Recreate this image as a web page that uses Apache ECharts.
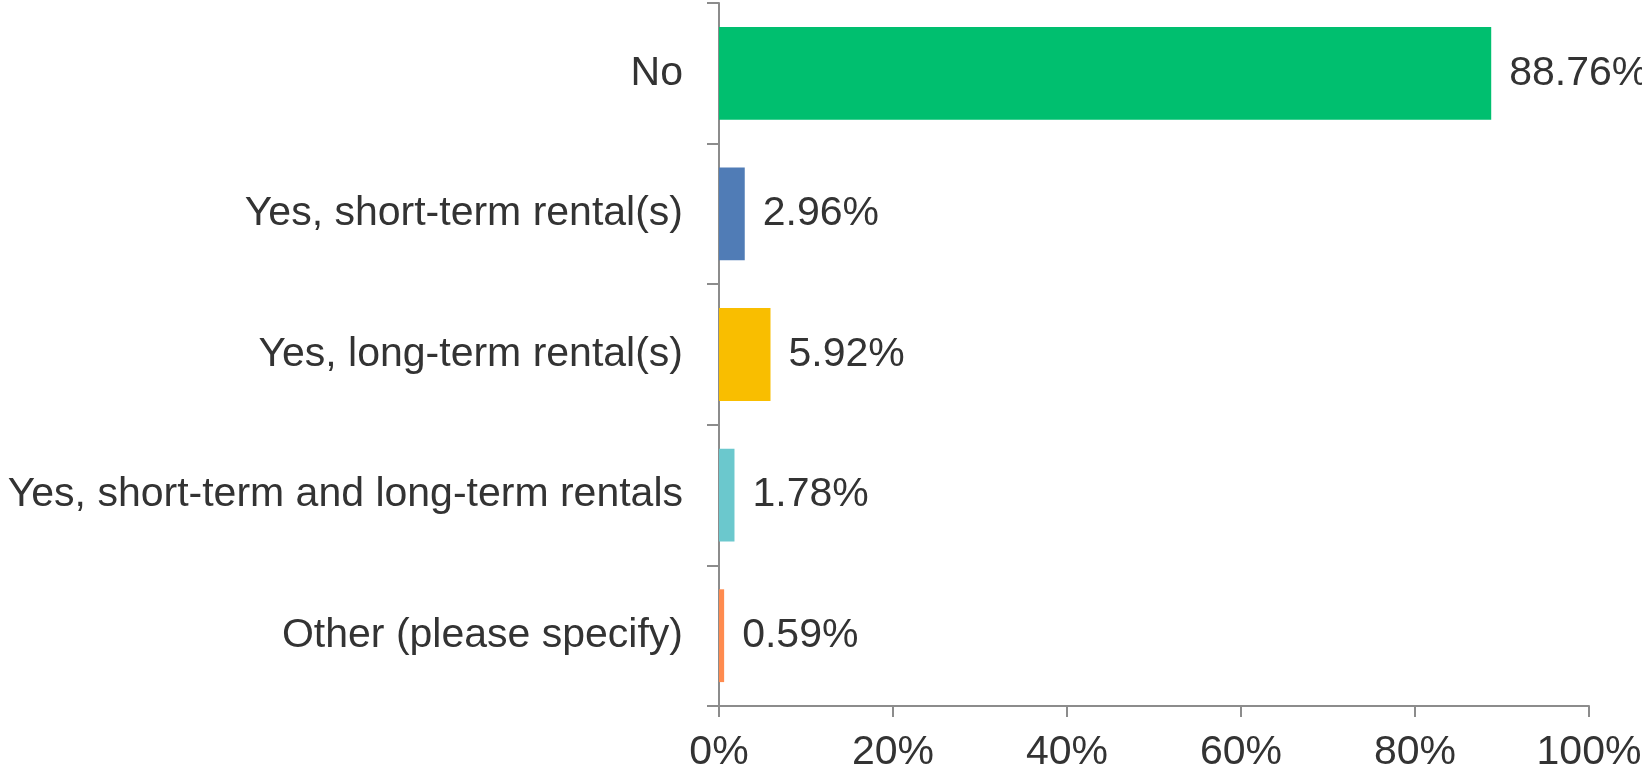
<!DOCTYPE html>
<html>
<head>
<meta charset="utf-8">
<script src="https://cdn.jsdelivr.net/npm/echarts@6/dist/echarts.min.js"></script>
<style>
  html, body { margin: 0; padding: 0; background: #fff; }
  #chart { width: 1642px; height: 771px; }
</style>
</head>
<body>
<div id="chart"></div>
<script>
// answers, top to bottom
var categories = ['No', 'Yes, short-term rental(s)', 'Yes, long-term rental(s)', 'Yes, short-term and long-term rentals', 'Other (please specify)']
var values = [88.76, 2.96, 5.92, 1.78, 0.59]
var colors = ['#00BF6F', '#507CB6', '#F9BE00', '#6BC8CD', '#FF8B4F']

var font = 'Liberation Sans, Arial, sans-serif'
var axisColor = '#8c8c8c'

var myChart = echarts.init(document.getElementById('chart'))
var option = {
  animation: false,
  // labels may run past the edge, like the original
  grid: { left: 719, right: 53, top: 3, bottom: 65, containLabel: false, outerBoundsMode: 'none' },
  xAxis: {
    type: 'value',
    min: 0,
    max: 100,
    interval: 20,
    axisLine: { show: true, lineStyle: { color: axisColor, width: 2 } },
    axisTick: { show: true, length: 11, lineStyle: { color: axisColor, width: 2 } },
    splitLine: { show: false },
    axisLabel: {
      formatter: '{value}%',
      color: '#333',
      fontFamily: font,
      fontSize: 41,
      margin: 26
    }
  },
  yAxis: {
    type: 'category',
    data: categories,
    inverse: true,
    axisLine: { show: true, lineStyle: { color: axisColor, width: 2 } },
    axisTick: { show: true, length: 12, lineStyle: { color: axisColor, width: 2 } },
    axisLabel: {
      color: '#333',
      fontFamily: font,
      fontSize: 41,
      margin: 36
    }
  },
  series: [{
    type: 'bar',
    barWidth: '66%',
    data: values.map(function (v, i) {
      return { value: v, itemStyle: { color: colors[i] } }
    }),
    label: {
      show: true,
      position: 'right',
      distance: 18,
      formatter: function (p) { return p.value.toFixed(2) + '%' },
      color: '#333',
      fontFamily: font,
      fontSize: 41
    }
  }]
}
myChart.setOption(option)
</script>
</body>
</html>
